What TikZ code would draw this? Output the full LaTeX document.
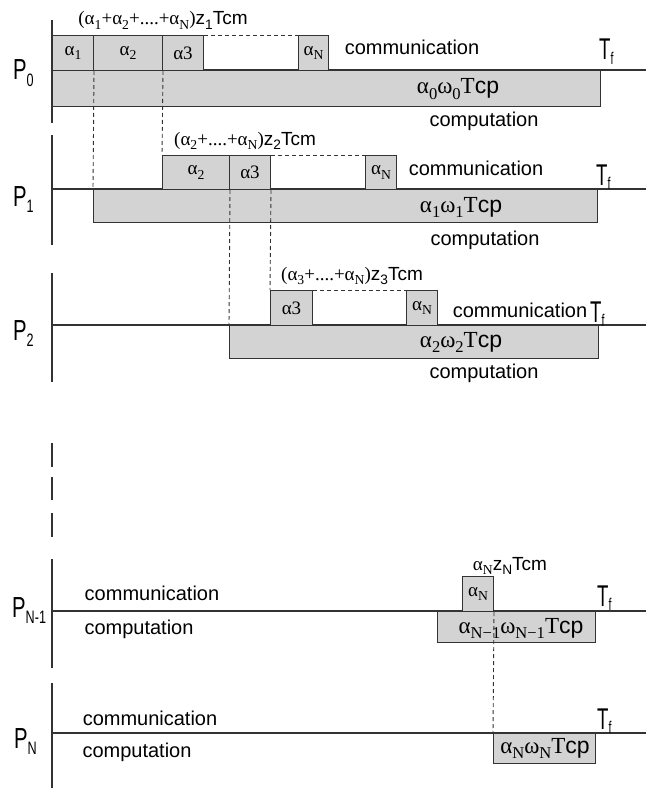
\documentclass[tikz,border=0pt]{standalone}
\usepackage{fontspec}
\setmainfont{Liberation Sans}
\newfontfamily\gk{Liberation Serif}
\definecolor{boxgray}{HTML}{D3D3D3}
\definecolor{linec}{HTML}{333333}
\newcommand\sbx[1]{\raisebox{-0.25em}{\scalebox{0.72}{#1}}}
\newcommand\plab[1]{\scalebox{0.7}[1]{\fontsize{29}{29}\selectfont P\raisebox{-0.22em}{\fontsize{18}{18}\selectfont #1}}}
\newcommand\tflab{\scalebox{0.62}[1]{\fontsize{30}{30}\selectfont T\raisebox{-0.15em}{\fontsize{17}{17}\selectfont f}}}
\tikzset{
 cbox/.style={draw=linec, fill=boxgray, line width=1pt, inner sep=0pt, anchor=north west, font=\gk\fontsize{19}{19}\selectfont},
 axisline/.style={draw=linec, line width=1.1pt},
 tline/.style={draw=linec, line width=1.1pt},
 dashln/.style={draw=linec, line width=0.9pt, dash pattern=on 4pt off 3pt},
 txt/.style={inner sep=0pt, anchor=base, font=\fontsize{20}{20}\selectfont},
 gtxt/.style={inner sep=0pt, anchor=base, font=\fontsize{23}{23}\selectfont},
 stxt/.style={inner sep=0pt, anchor=base, font=\fontsize{19}{19}\selectfont},
 plabel/.style={inner sep=0pt, anchor=base west},
}
\begin{document}
\begin{tikzpicture}[x=1pt,y=-1pt]
\useasboundingbox (0,0) rectangle (647,789);
% axes
\draw[axisline] (52,20) -- (52,123);
\draw[axisline] (52,135) -- (52,245);
\draw[axisline] (52,273) -- (52,382);
\draw[axisline] (52,443) -- (52,467);
\draw[axisline] (52,477) -- (52,500);
\draw[axisline] (52,513) -- (52,537);
\draw[axisline] (52,559) -- (52,668);
\draw[axisline] (52,683) -- (52,788);
% timelines
\coordinate (t0s) at (52,70);  \coordinate (t0e) at (646,70);
\coordinate (t1s) at (52,189); \coordinate (t1e) at (646,189);
\coordinate (t2s) at (52,325); \coordinate (t2e) at (646,325);
\coordinate (t3s) at (52,611); \coordinate (t3e) at (646,611);
\coordinate (t4s) at (52,733); \coordinate (t4e) at (646,733);
\draw[tline] (t0s) -- (t0e);
\draw[tline] (t1s) -- (t1e);
\draw[tline] (t2s) -- (t2e);
\draw[tline] (t3s) -- (t3e);
\draw[tline] (t4s) -- (t4e);
% P0
\node[cbox, minimum width=548, minimum height=36] (c0) at (52,70) {};
\node[cbox, minimum width=41, minimum height=35] (a01) at (52,35) {α\sbx{1}};
\node[cbox, minimum width=69, minimum height=35] (a02) at (93,35) {α\sbx{2}};
\node[cbox, minimum width=41, minimum height=35] (a03) at (162,35) {α3};
\node[cbox, minimum width=30, minimum height=35] (a0N) at (298,35) {α\sbx{N}};
% P1
\node[cbox, minimum width=504, minimum height=33] (c1) at (93,189) {};
\node[cbox, minimum width=67, minimum height=34] (a12) at (162,155) {α\sbx{2}};
\node[cbox, minimum width=41, minimum height=34] (a13) at (229,155) {α3};
\node[cbox, minimum width=31, minimum height=34] (a1N) at (365,155) {α\sbx{N}};
% P2
\node[cbox, minimum width=369, minimum height=33] (c2) at (229,325) {};
\node[cbox, minimum width=42, minimum height=35] (a23) at (270,290) {α3};
\node[cbox, minimum width=31, minimum height=35] (a2N) at (406,290) {α\sbx{N}};
% PN-1
\node[cbox, minimum width=158, minimum height=31] (cN1) at (437,611) {};
\node[cbox, minimum width=31, minimum height=35] (aNN) at (462,576) {α\sbx{N}};
% PN
\node[cbox, minimum width=102, minimum height=30] (cNN) at (493,733) {};
% dashed
\draw[dashln] (a03.north east) -- (a0N.north west);
\draw[dashln] (a13.north east) -- (a1N.north west);
\draw[dashln] (a23.north east) -- (a2N.north west);
\draw[dashln] (a01.south east) -- (c1.north west);
\draw[dashln] (a02.south east) -- (a12.north west);
\draw[dashln] (a12.south east) -- (c2.north west);
\draw[dashln] (a13.south east) -- (a23.north west);
\draw[dashln] (aNN.south east) -- (cNN.north west);
% labels P0
\node[stxt] (l0) at (163,25) {{\gk (α\sbx{1}+α\sbx{2}+....+α\sbx{N})}z\sbx{1}Tcm};
\node[txt] (m0) at (412,55) {communication};
\node[gtxt] (g0) at (458,94) {{\gk α\sbx{0}ω\sbx{0}T}cp};
\node[txt] (k0) at (484,126) {computation};
\node[plabel] (p0) at (13,80) {\plab{0}};
\node[plabel] (f0) at (599,60) {\tflab};
% labels P1
\node[stxt] (l1) at (245,145) {{\gk (α\sbx{2}+....+α\sbx{N})}z\sbx{2}Tcm};
\node[txt] (m1) at (476,175) {communication};
\node[gtxt] (g1) at (461,212) {{\gk α\sbx{1}ω\sbx{1}T}cp};
\node[txt] (k1) at (485,245) {computation};
\node[plabel] (p1) at (13,206) {\plab{1}};
\node[plabel] (f1) at (596,185) {\tflab};
% labels P2
\node[stxt] (l2) at (352,280) {{\gk (α\sbx{3}+....+α\sbx{N})}z\sbx{3}Tcm};
\node[txt] (m2) at (520,317) {communication};
\node[gtxt] (g2) at (461,347) {{\gk α\sbx{2}ω\sbx{2}T}cp};
\node[txt] (k2) at (484,378) {computation};
\node[plabel] (p2) at (13,340) {\plab{2}};
\node[plabel] (f2) at (590,322) {\tflab};
% labels PN-1
\node[stxt] (l3) at (510,570) {{\gk α\sbx{N}}z\sbx{N}Tcm};
\node[txt] (m3) at (152,600) {communication};
\node[gtxt] (g3) at (521,633) {{\gk α\sbx{N−1}ω\sbx{N−1}T}cp};
\node[txt] (k3) at (139,634) {computation};
\node[plabel] (p3) at (12,617) {\plab{N-1}};
\node[plabel] (f3) at (597,606) {\tflab};
% labels PN
\node[txt] (m4) at (150,725) {communication};
\node[gtxt] (g4) at (545,753) {{\gk α\sbx{N}ω\sbx{N}T}cp};
\node[txt] (k4) at (137,757) {computation};
\node[plabel] (p4) at (14,748) {\plab{N}};
\node[plabel] (f4) at (597,729) {\tflab};
\end{tikzpicture}
\end{document}
